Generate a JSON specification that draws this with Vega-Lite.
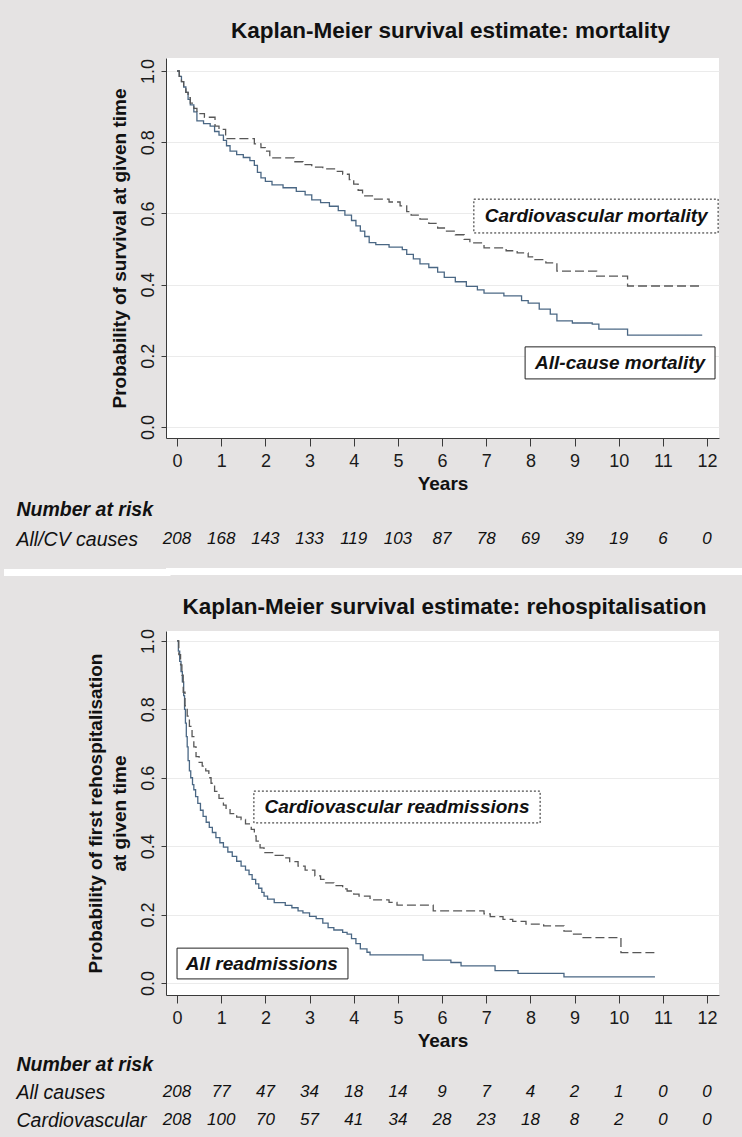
{
  "$schema": "https://vega.github.io/schema/vega-lite/v6.json",
  "background": "#e5e3e3",
  "padding": {"left": 0, "top": 19, "right": 0, "bottom": 0},
  "spacing": 19,
  "config": {
    "font": "Liberation Sans",
    "view": {"stroke": null},
    "axis": {"domainColor": "#3a3a3a", "tickColor": "#3a3a3a", "labelColor": "#1a1a1a", "titleColor": "#111111", "labelFont": "Liberation Sans", "titleFont": "Liberation Sans"},
    "title": {"font": "Liberation Sans", "color": "#111111"}
  },
  "datasets": {
    "km_mort": [
      {"series": "All-cause mortality", "t": 0, "s": 1.0},
      {"series": "All-cause mortality", "t": 0.05, "s": 0.985},
      {"series": "All-cause mortality", "t": 0.1, "s": 0.97},
      {"series": "All-cause mortality", "t": 0.15, "s": 0.955},
      {"series": "All-cause mortality", "t": 0.2, "s": 0.94},
      {"series": "All-cause mortality", "t": 0.25, "s": 0.92},
      {"series": "All-cause mortality", "t": 0.3, "s": 0.905},
      {"series": "All-cause mortality", "t": 0.38, "s": 0.885},
      {"series": "All-cause mortality", "t": 0.45, "s": 0.86},
      {"series": "All-cause mortality", "t": 0.6, "s": 0.852},
      {"series": "All-cause mortality", "t": 0.75, "s": 0.845},
      {"series": "All-cause mortality", "t": 0.85, "s": 0.83},
      {"series": "All-cause mortality", "t": 0.95, "s": 0.82},
      {"series": "All-cause mortality", "t": 1.05, "s": 0.805},
      {"series": "All-cause mortality", "t": 1.12, "s": 0.79},
      {"series": "All-cause mortality", "t": 1.2, "s": 0.775},
      {"series": "All-cause mortality", "t": 1.35, "s": 0.765},
      {"series": "All-cause mortality", "t": 1.5, "s": 0.757},
      {"series": "All-cause mortality", "t": 1.65, "s": 0.748},
      {"series": "All-cause mortality", "t": 1.75, "s": 0.735},
      {"series": "All-cause mortality", "t": 1.82, "s": 0.715},
      {"series": "All-cause mortality", "t": 1.9, "s": 0.7},
      {"series": "All-cause mortality", "t": 2.0, "s": 0.69},
      {"series": "All-cause mortality", "t": 2.15, "s": 0.68},
      {"series": "All-cause mortality", "t": 2.4, "s": 0.672},
      {"series": "All-cause mortality", "t": 2.7, "s": 0.662},
      {"series": "All-cause mortality", "t": 2.9, "s": 0.652},
      {"series": "All-cause mortality", "t": 3.05, "s": 0.638},
      {"series": "All-cause mortality", "t": 3.25, "s": 0.63},
      {"series": "All-cause mortality", "t": 3.45, "s": 0.62},
      {"series": "All-cause mortality", "t": 3.65, "s": 0.608},
      {"series": "All-cause mortality", "t": 3.8, "s": 0.595},
      {"series": "All-cause mortality", "t": 3.95, "s": 0.58},
      {"series": "All-cause mortality", "t": 4.05, "s": 0.565},
      {"series": "All-cause mortality", "t": 4.15, "s": 0.55},
      {"series": "All-cause mortality", "t": 4.25, "s": 0.535},
      {"series": "All-cause mortality", "t": 4.35, "s": 0.518},
      {"series": "All-cause mortality", "t": 4.5, "s": 0.512},
      {"series": "All-cause mortality", "t": 4.8, "s": 0.505},
      {"series": "All-cause mortality", "t": 5.1, "s": 0.498},
      {"series": "All-cause mortality", "t": 5.2, "s": 0.485},
      {"series": "All-cause mortality", "t": 5.35, "s": 0.472},
      {"series": "All-cause mortality", "t": 5.5, "s": 0.458},
      {"series": "All-cause mortality", "t": 5.7, "s": 0.448},
      {"series": "All-cause mortality", "t": 5.9, "s": 0.435},
      {"series": "All-cause mortality", "t": 6.05, "s": 0.42},
      {"series": "All-cause mortality", "t": 6.3, "s": 0.408},
      {"series": "All-cause mortality", "t": 6.55, "s": 0.395},
      {"series": "All-cause mortality", "t": 6.8, "s": 0.385},
      {"series": "All-cause mortality", "t": 6.95, "s": 0.376},
      {"series": "All-cause mortality", "t": 7.4, "s": 0.368},
      {"series": "All-cause mortality", "t": 7.8, "s": 0.355},
      {"series": "All-cause mortality", "t": 7.95, "s": 0.348},
      {"series": "All-cause mortality", "t": 8.2, "s": 0.331},
      {"series": "All-cause mortality", "t": 8.45, "s": 0.317},
      {"series": "All-cause mortality", "t": 8.6, "s": 0.298},
      {"series": "All-cause mortality", "t": 8.95, "s": 0.292},
      {"series": "All-cause mortality", "t": 9.4, "s": 0.289},
      {"series": "All-cause mortality", "t": 9.55, "s": 0.275},
      {"series": "All-cause mortality", "t": 10.2, "s": 0.258},
      {"series": "All-cause mortality", "t": 11.89, "s": 0.258},
      {"series": "Cardiovascular mortality", "t": 0, "s": 1.0},
      {"series": "Cardiovascular mortality", "t": 0.05, "s": 0.985},
      {"series": "Cardiovascular mortality", "t": 0.1, "s": 0.97},
      {"series": "Cardiovascular mortality", "t": 0.15, "s": 0.955},
      {"series": "Cardiovascular mortality", "t": 0.2, "s": 0.94},
      {"series": "Cardiovascular mortality", "t": 0.25, "s": 0.925},
      {"series": "Cardiovascular mortality", "t": 0.3, "s": 0.91},
      {"series": "Cardiovascular mortality", "t": 0.38, "s": 0.895},
      {"series": "Cardiovascular mortality", "t": 0.45, "s": 0.88},
      {"series": "Cardiovascular mortality", "t": 0.62, "s": 0.87},
      {"series": "Cardiovascular mortality", "t": 0.86, "s": 0.845},
      {"series": "Cardiovascular mortality", "t": 0.95, "s": 0.836},
      {"series": "Cardiovascular mortality", "t": 1.1, "s": 0.81},
      {"series": "Cardiovascular mortality", "t": 1.75, "s": 0.795},
      {"series": "Cardiovascular mortality", "t": 1.9, "s": 0.785},
      {"series": "Cardiovascular mortality", "t": 2.0, "s": 0.775},
      {"series": "Cardiovascular mortality", "t": 2.1, "s": 0.756},
      {"series": "Cardiovascular mortality", "t": 2.65, "s": 0.745},
      {"series": "Cardiovascular mortality", "t": 2.85, "s": 0.737},
      {"series": "Cardiovascular mortality", "t": 3.05, "s": 0.73},
      {"series": "Cardiovascular mortality", "t": 3.3, "s": 0.725},
      {"series": "Cardiovascular mortality", "t": 3.6, "s": 0.718},
      {"series": "Cardiovascular mortality", "t": 3.75, "s": 0.71},
      {"series": "Cardiovascular mortality", "t": 3.9, "s": 0.695},
      {"series": "Cardiovascular mortality", "t": 4.0, "s": 0.682},
      {"series": "Cardiovascular mortality", "t": 4.1, "s": 0.665},
      {"series": "Cardiovascular mortality", "t": 4.2, "s": 0.649},
      {"series": "Cardiovascular mortality", "t": 4.45, "s": 0.64},
      {"series": "Cardiovascular mortality", "t": 4.8, "s": 0.632},
      {"series": "Cardiovascular mortality", "t": 5.05, "s": 0.621},
      {"series": "Cardiovascular mortality", "t": 5.2, "s": 0.605},
      {"series": "Cardiovascular mortality", "t": 5.3, "s": 0.595},
      {"series": "Cardiovascular mortality", "t": 5.5, "s": 0.584},
      {"series": "Cardiovascular mortality", "t": 5.7, "s": 0.572},
      {"series": "Cardiovascular mortality", "t": 5.9, "s": 0.559},
      {"series": "Cardiovascular mortality", "t": 6.1, "s": 0.55},
      {"series": "Cardiovascular mortality", "t": 6.3, "s": 0.54},
      {"series": "Cardiovascular mortality", "t": 6.5, "s": 0.527},
      {"series": "Cardiovascular mortality", "t": 6.63, "s": 0.517},
      {"series": "Cardiovascular mortality", "t": 6.95, "s": 0.503},
      {"series": "Cardiovascular mortality", "t": 7.45, "s": 0.495},
      {"series": "Cardiovascular mortality", "t": 7.7, "s": 0.489},
      {"series": "Cardiovascular mortality", "t": 7.95, "s": 0.478},
      {"series": "Cardiovascular mortality", "t": 8.1, "s": 0.47},
      {"series": "Cardiovascular mortality", "t": 8.35, "s": 0.461},
      {"series": "Cardiovascular mortality", "t": 8.6, "s": 0.438},
      {"series": "Cardiovascular mortality", "t": 9.5, "s": 0.424},
      {"series": "Cardiovascular mortality", "t": 10.2, "s": 0.396},
      {"series": "Cardiovascular mortality", "t": 11.89, "s": 0.396}
    ],
    "km_rehosp": [
      {"series": "All readmissions", "t": 0, "s": 1.0},
      {"series": "All readmissions", "t": 0.03, "s": 0.97},
      {"series": "All readmissions", "t": 0.06, "s": 0.94},
      {"series": "All readmissions", "t": 0.09, "s": 0.91},
      {"series": "All readmissions", "t": 0.12, "s": 0.88},
      {"series": "All readmissions", "t": 0.15, "s": 0.84},
      {"series": "All readmissions", "t": 0.17, "s": 0.8},
      {"series": "All readmissions", "t": 0.19, "s": 0.76},
      {"series": "All readmissions", "t": 0.21, "s": 0.72},
      {"series": "All readmissions", "t": 0.23, "s": 0.69},
      {"series": "All readmissions", "t": 0.25, "s": 0.65},
      {"series": "All readmissions", "t": 0.28, "s": 0.62},
      {"series": "All readmissions", "t": 0.31, "s": 0.6},
      {"series": "All readmissions", "t": 0.35, "s": 0.58},
      {"series": "All readmissions", "t": 0.38, "s": 0.565},
      {"series": "All readmissions", "t": 0.42, "s": 0.545},
      {"series": "All readmissions", "t": 0.47, "s": 0.525},
      {"series": "All readmissions", "t": 0.53, "s": 0.505},
      {"series": "All readmissions", "t": 0.59, "s": 0.487},
      {"series": "All readmissions", "t": 0.66, "s": 0.47},
      {"series": "All readmissions", "t": 0.73, "s": 0.455},
      {"series": "All readmissions", "t": 0.8, "s": 0.44},
      {"series": "All readmissions", "t": 0.88, "s": 0.425},
      {"series": "All readmissions", "t": 0.97, "s": 0.41},
      {"series": "All readmissions", "t": 1.05, "s": 0.397},
      {"series": "All readmissions", "t": 1.15, "s": 0.383},
      {"series": "All readmissions", "t": 1.25, "s": 0.37},
      {"series": "All readmissions", "t": 1.35, "s": 0.356},
      {"series": "All readmissions", "t": 1.45, "s": 0.342},
      {"series": "All readmissions", "t": 1.55, "s": 0.33},
      {"series": "All readmissions", "t": 1.63, "s": 0.317},
      {"series": "All readmissions", "t": 1.7, "s": 0.303},
      {"series": "All readmissions", "t": 1.78, "s": 0.29},
      {"series": "All readmissions", "t": 1.85, "s": 0.277},
      {"series": "All readmissions", "t": 1.92, "s": 0.265},
      {"series": "All readmissions", "t": 1.97, "s": 0.254},
      {"series": "All readmissions", "t": 2.05, "s": 0.245},
      {"series": "All readmissions", "t": 2.2, "s": 0.235},
      {"series": "All readmissions", "t": 2.45, "s": 0.227},
      {"series": "All readmissions", "t": 2.6, "s": 0.22},
      {"series": "All readmissions", "t": 2.74, "s": 0.211},
      {"series": "All readmissions", "t": 2.85, "s": 0.205},
      {"series": "All readmissions", "t": 3.0, "s": 0.195},
      {"series": "All readmissions", "t": 3.15, "s": 0.188},
      {"series": "All readmissions", "t": 3.3, "s": 0.175},
      {"series": "All readmissions", "t": 3.42, "s": 0.162},
      {"series": "All readmissions", "t": 3.55, "s": 0.155},
      {"series": "All readmissions", "t": 3.75, "s": 0.148},
      {"series": "All readmissions", "t": 3.85, "s": 0.143},
      {"series": "All readmissions", "t": 3.95, "s": 0.13},
      {"series": "All readmissions", "t": 4.05, "s": 0.115},
      {"series": "All readmissions", "t": 4.15, "s": 0.1},
      {"series": "All readmissions", "t": 4.3, "s": 0.09},
      {"series": "All readmissions", "t": 4.37, "s": 0.082},
      {"series": "All readmissions", "t": 5.57, "s": 0.067},
      {"series": "All readmissions", "t": 6.2, "s": 0.06},
      {"series": "All readmissions", "t": 6.43, "s": 0.05},
      {"series": "All readmissions", "t": 7.2, "s": 0.036},
      {"series": "All readmissions", "t": 7.72, "s": 0.028},
      {"series": "All readmissions", "t": 8.76, "s": 0.018},
      {"series": "All readmissions", "t": 10.82, "s": 0.018},
      {"series": "Cardiovascular readmissions", "t": 0, "s": 1.0},
      {"series": "Cardiovascular readmissions", "t": 0.04, "s": 0.96},
      {"series": "Cardiovascular readmissions", "t": 0.08, "s": 0.93},
      {"series": "Cardiovascular readmissions", "t": 0.11, "s": 0.9},
      {"series": "Cardiovascular readmissions", "t": 0.14, "s": 0.85},
      {"series": "Cardiovascular readmissions", "t": 0.18, "s": 0.81},
      {"series": "Cardiovascular readmissions", "t": 0.23, "s": 0.78},
      {"series": "Cardiovascular readmissions", "t": 0.28, "s": 0.75},
      {"series": "Cardiovascular readmissions", "t": 0.34, "s": 0.72},
      {"series": "Cardiovascular readmissions", "t": 0.38, "s": 0.69},
      {"series": "Cardiovascular readmissions", "t": 0.43, "s": 0.662},
      {"series": "Cardiovascular readmissions", "t": 0.5, "s": 0.645},
      {"series": "Cardiovascular readmissions", "t": 0.57, "s": 0.634},
      {"series": "Cardiovascular readmissions", "t": 0.65, "s": 0.62},
      {"series": "Cardiovascular readmissions", "t": 0.72, "s": 0.6},
      {"series": "Cardiovascular readmissions", "t": 0.77, "s": 0.584},
      {"series": "Cardiovascular readmissions", "t": 0.85, "s": 0.56},
      {"series": "Cardiovascular readmissions", "t": 0.95, "s": 0.54},
      {"series": "Cardiovascular readmissions", "t": 1.05, "s": 0.52},
      {"series": "Cardiovascular readmissions", "t": 1.11, "s": 0.507},
      {"series": "Cardiovascular readmissions", "t": 1.2, "s": 0.495},
      {"series": "Cardiovascular readmissions", "t": 1.35, "s": 0.485},
      {"series": "Cardiovascular readmissions", "t": 1.45, "s": 0.478},
      {"series": "Cardiovascular readmissions", "t": 1.55, "s": 0.465},
      {"series": "Cardiovascular readmissions", "t": 1.68, "s": 0.449},
      {"series": "Cardiovascular readmissions", "t": 1.75, "s": 0.43},
      {"series": "Cardiovascular readmissions", "t": 1.79, "s": 0.415},
      {"series": "Cardiovascular readmissions", "t": 1.88, "s": 0.395},
      {"series": "Cardiovascular readmissions", "t": 1.97, "s": 0.381},
      {"series": "Cardiovascular readmissions", "t": 2.2, "s": 0.373},
      {"series": "Cardiovascular readmissions", "t": 2.4, "s": 0.366},
      {"series": "Cardiovascular readmissions", "t": 2.55, "s": 0.355},
      {"series": "Cardiovascular readmissions", "t": 2.74, "s": 0.342},
      {"series": "Cardiovascular readmissions", "t": 2.9, "s": 0.33},
      {"series": "Cardiovascular readmissions", "t": 3.12, "s": 0.313},
      {"series": "Cardiovascular readmissions", "t": 3.25, "s": 0.303},
      {"series": "Cardiovascular readmissions", "t": 3.35, "s": 0.293},
      {"series": "Cardiovascular readmissions", "t": 3.55, "s": 0.285},
      {"series": "Cardiovascular readmissions", "t": 3.75, "s": 0.275},
      {"series": "Cardiovascular readmissions", "t": 3.85, "s": 0.269},
      {"series": "Cardiovascular readmissions", "t": 4.0, "s": 0.26},
      {"series": "Cardiovascular readmissions", "t": 4.12, "s": 0.254},
      {"series": "Cardiovascular readmissions", "t": 4.37, "s": 0.243},
      {"series": "Cardiovascular readmissions", "t": 4.8, "s": 0.236},
      {"series": "Cardiovascular readmissions", "t": 4.98, "s": 0.228},
      {"series": "Cardiovascular readmissions", "t": 5.8, "s": 0.211},
      {"series": "Cardiovascular readmissions", "t": 6.95, "s": 0.202},
      {"series": "Cardiovascular readmissions", "t": 7.09, "s": 0.194},
      {"series": "Cardiovascular readmissions", "t": 7.38, "s": 0.186},
      {"series": "Cardiovascular readmissions", "t": 7.6, "s": 0.18},
      {"series": "Cardiovascular readmissions", "t": 7.9, "s": 0.172},
      {"series": "Cardiovascular readmissions", "t": 8.3, "s": 0.167},
      {"series": "Cardiovascular readmissions", "t": 8.76, "s": 0.152},
      {"series": "Cardiovascular readmissions", "t": 8.95, "s": 0.143},
      {"series": "Cardiovascular readmissions", "t": 9.15, "s": 0.133},
      {"series": "Cardiovascular readmissions", "t": 10.05, "s": 0.089},
      {"series": "Cardiovascular readmissions", "t": 10.82, "s": 0.089}
    ],
    "labels_mort": [
      {"label": "Cardiovascular mortality", "style": "dotted", "t": 9.49, "s": 0.593, "t0": 6.72, "t1": 12.25, "s0": 0.545, "s1": 0.64},
      {"label": "All-cause mortality", "style": "solid", "t": 10.03, "s": 0.18, "t0": 7.88, "t1": 12.18, "s0": 0.135, "s1": 0.225}
    ],
    "labels_rehosp": [
      {"label": "Cardiovascular readmissions", "style": "dotted", "t": 4.98, "s": 0.515, "t0": 1.74, "t1": 8.22, "s0": 0.468, "s1": 0.561},
      {"label": "All readmissions", "style": "solid", "t": 1.92, "s": 0.057, "t0": 0.0, "t1": 3.87, "s0": 0.012, "s1": 0.102}
    ],
    "risk_mort": [
      {"row": "All/CV causes", "t": 0, "n": 208}, {"row": "All/CV causes", "t": 1, "n": 168},
      {"row": "All/CV causes", "t": 2, "n": 143}, {"row": "All/CV causes", "t": 3, "n": 133},
      {"row": "All/CV causes", "t": 4, "n": 119}, {"row": "All/CV causes", "t": 5, "n": 103},
      {"row": "All/CV causes", "t": 6, "n": 87}, {"row": "All/CV causes", "t": 7, "n": 78},
      {"row": "All/CV causes", "t": 8, "n": 69}, {"row": "All/CV causes", "t": 9, "n": 39},
      {"row": "All/CV causes", "t": 10, "n": 19}, {"row": "All/CV causes", "t": 11, "n": 6},
      {"row": "All/CV causes", "t": 12, "n": 0}
    ],
    "risk_rehosp": [
      {"row": "All causes", "t": 0, "n": 208}, {"row": "All causes", "t": 1, "n": 77},
      {"row": "All causes", "t": 2, "n": 47}, {"row": "All causes", "t": 3, "n": 34},
      {"row": "All causes", "t": 4, "n": 18}, {"row": "All causes", "t": 5, "n": 14},
      {"row": "All causes", "t": 6, "n": 9}, {"row": "All causes", "t": 7, "n": 7},
      {"row": "All causes", "t": 8, "n": 4}, {"row": "All causes", "t": 9, "n": 2},
      {"row": "All causes", "t": 10, "n": 1}, {"row": "All causes", "t": 11, "n": 0},
      {"row": "All causes", "t": 12, "n": 0},
      {"row": "Cardiovascular", "t": 0, "n": 208}, {"row": "Cardiovascular", "t": 1, "n": 100},
      {"row": "Cardiovascular", "t": 2, "n": 70}, {"row": "Cardiovascular", "t": 3, "n": 57},
      {"row": "Cardiovascular", "t": 4, "n": 41}, {"row": "Cardiovascular", "t": 5, "n": 34},
      {"row": "Cardiovascular", "t": 6, "n": 28}, {"row": "Cardiovascular", "t": 7, "n": 23},
      {"row": "Cardiovascular", "t": 8, "n": 18}, {"row": "Cardiovascular", "t": 9, "n": 8},
      {"row": "Cardiovascular", "t": 10, "n": 2}, {"row": "Cardiovascular", "t": 11, "n": 0},
      {"row": "Cardiovascular", "t": 12, "n": 0}
    ],
    "sep": [{"k": 1}]
  },
  "vconcat": [
    {
      "spacing": 0,
      "vconcat": [
        {
          "width": 553, "height": 380,
          "view": {"fill": "white", "stroke": null},
          "title": {"text": "Kaplan-Meier survival estimate: mortality", "fontSize": 22.5, "fontWeight": "bold", "frame": "group", "anchor": "middle", "offset": 16, "dx": 8},
          "layer": [
            {
              "data": {"name": "km_mort"},
              "mark": {"type": "line", "interpolate": "step-after", "strokeWidth": 1.3},
              "encoding": {
                "x": {"field": "t", "type": "quantitative", "scale": {"domain": [-0.25, 12.27], "nice": false, "zero": false},
                  "axis": {"values": [0,1,2,3,4,5,6,7,8,9,10,11,12], "format": "d", "title": "Years", "grid": false, "tickSize": 8, "labelFontSize": 18, "labelPadding": 6, "labelFlush": false, "labelOverlap": false, "titleFontSize": 19, "titleFontWeight": "bold", "titlePadding": 4}},
                "y": {"field": "s", "type": "quantitative", "scale": {"domain": [-0.031, 1.0365], "nice": false, "zero": false},
                  "axis": {"values": [0,0.2,0.4,0.6,0.8,1], "format": ".1f", "title": "Probability  of survival at given time", "grid": true, "gridColor": "#ebebeb", "tickSize": 5, "labelAngle": 270, "labelAlign": "center", "labelBaseline": "bottom", "labelFontSize": 18, "labelPadding": 4, "labelFlush": false, "titleFontSize": 19, "titleFontWeight": "bold", "titlePadding": 10}},
                "color": {"field": "series", "type": "nominal", "scale": {"domain": ["All-cause mortality", "Cardiovascular mortality"], "range": ["#4a6784", "#575757"]}, "legend": null},
                "strokeDash": {"field": "series", "type": "nominal", "scale": {"domain": ["All-cause mortality", "Cardiovascular mortality"], "range": [[1, 0], [9, 4]]}, "legend": null}
              }
            },
            {
              "data": {"name": "labels_mort"},
              "transform": [{"filter": "datum.style === 'dotted'"}],
              "mark": {"type": "rect", "fill": "white", "stroke": "#222222", "strokeWidth": 1, "strokeDash": [2, 2]},
              "encoding": {"x": {"field": "t0", "type": "quantitative"}, "x2": {"field": "t1"}, "y": {"field": "s0", "type": "quantitative"}, "y2": {"field": "s1"}}
            },
            {
              "data": {"name": "labels_mort"},
              "transform": [{"filter": "datum.style === 'solid'"}],
              "mark": {"type": "rect", "fill": "white", "stroke": "#222222", "strokeWidth": 1},
              "encoding": {"x": {"field": "t0", "type": "quantitative"}, "x2": {"field": "t1"}, "y": {"field": "s0", "type": "quantitative"}, "y2": {"field": "s1"}}
            },
            {
              "data": {"name": "labels_mort"},
              "mark": {"type": "text", "fontSize": 19, "fontWeight": "bold", "fontStyle": "italic", "color": "#111111"},
              "encoding": {"x": {"field": "t", "type": "quantitative"}, "y": {"field": "s", "type": "quantitative"}, "text": {"field": "label"}}
            }
          ]
        },
        {
          "width": 553, "height": 54,
          "data": {"name": "risk_mort"},
          "mark": {"type": "text", "fontSize": 17, "fontStyle": "italic", "color": "#111111"},
          "encoding": {
            "x": {"field": "t", "type": "quantitative", "scale": {"domain": [-0.25, 12.27], "nice": false, "zero": false}, "axis": null},
            "y": {"field": "row", "type": "ordinal", "scale": {"type": "point", "domain": ["Number at risk", "All/CV causes"], "padding": 0.4, "align": 0.667},
              "axis": {"title": null, "domain": false, "ticks": false, "labelAlign": "left", "labelBaseline": "middle", "labelPadding": 150, "minExtent": 166, "labelFontSize": 19.5, "labelFontStyle": "italic", "labelColor": "#111111",
                "labelFontWeight": {"condition": {"test": "datum.value === 'Number at risk'", "value": "bold"}, "value": "normal"}}},
            "text": {"field": "n", "type": "quantitative"}
          }
        }
      ]
    },
    {
      "width": 576, "height": 7,
      "view": {"fill": "white", "stroke": null},
      "data": {"name": "sep"},
      "mark": {"type": "rule", "color": "white", "strokeWidth": 7},
      "encoding": {
        "y": {"datum": 0.5, "type": "quantitative", "scale": {"domain": [0, 1], "nice": false, "zero": false},
          "axis": {"values": [0.5], "labels": false, "domain": false, "grid": false, "title": null, "offset": -4, "tickSize": 166.5, "tickWidth": 7, "tickColor": "white", "tickOpacity": 1, "minExtent": 0}}
      }
    },
    {
      "spacing": 0,
      "vconcat": [
        {
          "width": 553, "height": 364,
          "view": {"fill": "white", "stroke": null},
          "title": {"text": "Kaplan-Meier survival estimate: rehospitalisation", "fontSize": 22.5, "fontWeight": "bold", "frame": "group", "anchor": "middle", "offset": 10, "dx": 2},
          "layer": [
            {
              "data": {"name": "km_rehosp"},
              "mark": {"type": "line", "interpolate": "step-after", "strokeWidth": 1.3},
              "encoding": {
                "x": {"field": "t", "type": "quantitative", "scale": {"domain": [-0.25, 12.27], "nice": false, "zero": false},
                  "axis": {"values": [0,1,2,3,4,5,6,7,8,9,10,11,12], "format": "d", "title": "Years", "grid": false, "tickSize": 8, "labelFontSize": 18, "labelPadding": 6, "labelFlush": false, "labelOverlap": false, "titleFontSize": 19, "titleFontWeight": "bold", "titlePadding": 4}},
                "y": {"field": "s", "type": "quantitative", "scale": {"domain": [-0.035, 1.029], "nice": false, "zero": false},
                  "axis": {"values": [0,0.2,0.4,0.6,0.8,1], "format": ".1f", "title": ["Probability  of first rehospitalisation", "at given time"], "titleLineHeight": 24, "grid": true, "gridColor": "#ebebeb", "tickSize": 5, "labelAngle": 270, "labelAlign": "center", "labelBaseline": "bottom", "labelFontSize": 18, "labelPadding": 4, "labelFlush": false, "titleFontSize": 19, "titleFontWeight": "bold", "titlePadding": 10}},
                "color": {"field": "series", "type": "nominal", "scale": {"domain": ["All readmissions", "Cardiovascular readmissions"], "range": ["#4a6784", "#575757"]}, "legend": null},
                "strokeDash": {"field": "series", "type": "nominal", "scale": {"domain": ["All readmissions", "Cardiovascular readmissions"], "range": [[1, 0], [9, 4]]}, "legend": null}
              }
            },
            {
              "data": {"name": "labels_rehosp"},
              "transform": [{"filter": "datum.style === 'dotted'"}],
              "mark": {"type": "rect", "fill": "white", "stroke": "#222222", "strokeWidth": 1, "strokeDash": [2, 2]},
              "encoding": {"x": {"field": "t0", "type": "quantitative"}, "x2": {"field": "t1"}, "y": {"field": "s0", "type": "quantitative"}, "y2": {"field": "s1"}}
            },
            {
              "data": {"name": "labels_rehosp"},
              "transform": [{"filter": "datum.style === 'solid'"}],
              "mark": {"type": "rect", "fill": "white", "stroke": "#222222", "strokeWidth": 1},
              "encoding": {"x": {"field": "t0", "type": "quantitative"}, "x2": {"field": "t1"}, "y": {"field": "s0", "type": "quantitative"}, "y2": {"field": "s1"}}
            },
            {
              "data": {"name": "labels_rehosp"},
              "mark": {"type": "text", "fontSize": 19, "fontWeight": "bold", "fontStyle": "italic", "color": "#111111"},
              "encoding": {"x": {"field": "t", "type": "quantitative"}, "y": {"field": "s", "type": "quantitative"}, "text": {"field": "label"}}
            }
          ]
        },
        {
          "width": 553, "height": 92,
          "data": {"name": "risk_rehosp"},
          "mark": {"type": "text", "fontSize": 17, "fontStyle": "italic", "color": "#111111"},
          "encoding": {
            "x": {"field": "t", "type": "quantitative", "scale": {"domain": [-0.25, 12.27], "nice": false, "zero": false}, "axis": null},
            "y": {"field": "row", "type": "ordinal", "scale": {"type": "point", "domain": ["Number at risk", "All causes", "Cardiovascular"], "padding": 0.643, "align": 0.389},
              "axis": {"title": null, "domain": false, "ticks": false, "labelAlign": "left", "labelBaseline": "middle", "labelPadding": 150, "minExtent": 166, "labelFontSize": 19.5, "labelFontStyle": "italic", "labelColor": "#111111",
                "labelFontWeight": {"condition": {"test": "datum.value === 'Number at risk'", "value": "bold"}, "value": "normal"}}},
            "text": {"field": "n", "type": "quantitative"}
          }
        }
      ]
    }
  ]
}
